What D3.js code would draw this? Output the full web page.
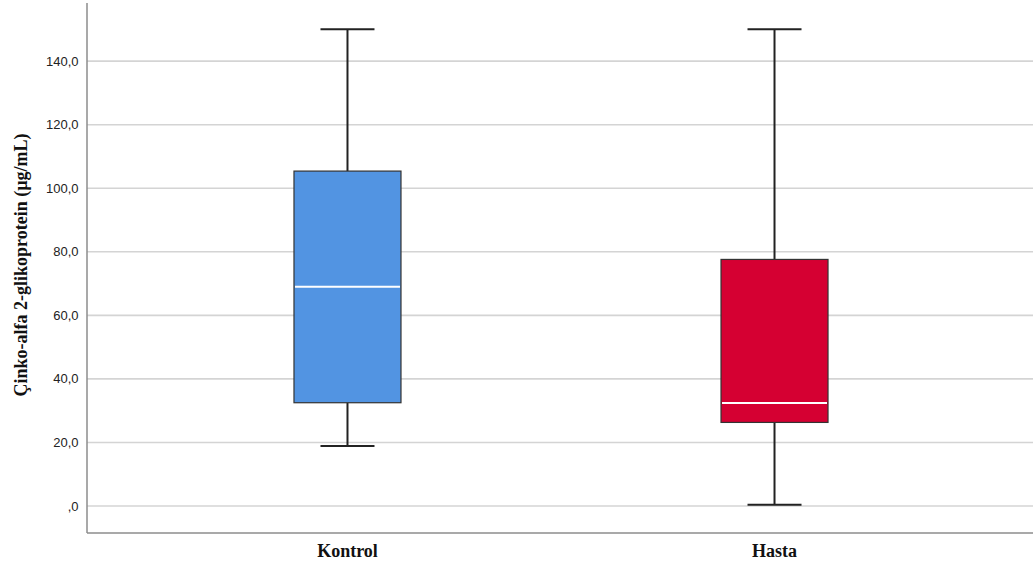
<!DOCTYPE html>
<html>
<head>
<meta charset="utf-8">
<script src="https://cdn.jsdelivr.net/npm/d3@7"></script>
<style>
  html, body { margin: 0; padding: 0; background: #fff; }
  svg { display: block; }
</style>
</head>
<body>
<svg id="chart" width="1033" height="570"></svg>
<script>
// Groups and their five-number summaries (µg/mL)
const groups = ["Kontrol", "Hasta"];
const whiskerLow  = [18.9, 0.4];
const quartile1   = [32.5, 26.3];
const medians     = [69.0, 32.4];
const quartile3   = [105.4, 77.6];
const whiskerHigh = [150.0, 150.0];
const boxColors   = ["#5294e2", "#d50032"];
const yTicks = [0, 20, 40, 60, 80, 100, 120, 140];
const yTitle = "Çinko-alfa 2-glikoprotein (µg/mL)";

(function draw() {
  const svg = d3.select("#chart");
  const plotLeft = 87, plotRight = 1035, plotTop = 3, plotBottom = 533;

  const y = d3.scaleLinear().domain([-8.5, 158.3]).range([plotBottom, plotTop]);
  const x = d3.scalePoint().domain(groups).range([plotLeft, plotRight]).padding(0.61);
  const boxW = 107, capW = 54;

  // horizontal gridlines
  svg.append("g").selectAll("line").data(yTicks).join("line")
    .attr("x1", plotLeft).attr("x2", 1033)
    .attr("y1", d => y(d)).attr("y2", d => y(d))
    .attr("stroke", "#d4d4d4").attr("stroke-width", 1.6);

  // y tick labels
  const fmt = v => (v === 0 ? "" : String(v)) + ",0";
  svg.append("g").selectAll("text").data(yTicks).join("text")
    .attr("x", 78.5).attr("y", d => y(d)).attr("dy", "0.35em")
    .attr("text-anchor", "end")
    .attr("font-family", "Liberation Sans, Arial, sans-serif")
    .attr("font-size", 13).attr("fill", "#222")
    .text(fmt);

  // axis frame: left and bottom lines
  svg.append("line").attr("x1", plotLeft).attr("x2", plotLeft).attr("y1", plotTop).attr("y2", plotBottom)
    .attr("stroke", "#8c8c8c").attr("stroke-width", 1.5);
  svg.append("line").attr("x1", plotLeft).attr("x2", 1033).attr("y1", plotBottom).attr("y2", plotBottom)
    .attr("stroke", "#8c8c8c").attr("stroke-width", 1.5);

  const data = groups.map((g, i) => ({
    g, lo: whiskerLow[i], q1: quartile1[i], med: medians[i], q3: quartile3[i], hi: whiskerHigh[i], c: boxColors[i]
  }));

  const box = svg.append("g").selectAll("g").data(data).join("g");

  // whisker stems
  box.append("line")
    .attr("x1", d => x(d.g)).attr("x2", d => x(d.g))
    .attr("y1", d => y(d.hi)).attr("y2", d => y(d.q3))
    .attr("stroke", "#222").attr("stroke-width", 2);
  box.append("line")
    .attr("x1", d => x(d.g)).attr("x2", d => x(d.g))
    .attr("y1", d => y(d.q1)).attr("y2", d => y(d.lo))
    .attr("stroke", "#222").attr("stroke-width", 2);
  // whisker caps
  box.append("line")
    .attr("x1", d => x(d.g) - capW / 2).attr("x2", d => x(d.g) + capW / 2)
    .attr("y1", d => y(d.hi)).attr("y2", d => y(d.hi))
    .attr("stroke", "#222").attr("stroke-width", 2);
  box.append("line")
    .attr("x1", d => x(d.g) - capW / 2).attr("x2", d => x(d.g) + capW / 2)
    .attr("y1", d => y(d.lo)).attr("y2", d => y(d.lo))
    .attr("stroke", "#222").attr("stroke-width", 2);

  // interquartile boxes
  box.append("rect")
    .attr("x", d => x(d.g) - boxW / 2).attr("width", boxW)
    .attr("y", d => y(d.q3)).attr("height", d => y(d.q1) - y(d.q3))
    .attr("fill", d => d.c).attr("stroke", "#333").attr("stroke-width", 1.2);

  // medians
  box.append("line")
    .attr("x1", d => x(d.g) - boxW / 2 + 1).attr("x2", d => x(d.g) + boxW / 2 - 1)
    .attr("y1", d => y(d.med)).attr("y2", d => y(d.med))
    .attr("stroke", "#fff").attr("stroke-width", 2);

  // category labels
  svg.append("g").selectAll("text").data(groups).join("text")
    .attr("x", d => x(d)).attr("y", 557)
    .attr("text-anchor", "middle")
    .attr("font-family", "Liberation Serif, Times New Roman, serif")
    .attr("font-weight", "bold").attr("font-size", 18).attr("fill", "#111")
    .text(d => d);

  // y axis title
  svg.append("text")
    .attr("transform", "translate(27,265) rotate(-90)")
    .attr("text-anchor", "middle")
    .attr("font-family", "Liberation Serif, Times New Roman, serif")
    .attr("font-weight", "bold").attr("font-size", 18).attr("fill", "#111")
    .text(yTitle);
})();
</script>
</body>
</html>
